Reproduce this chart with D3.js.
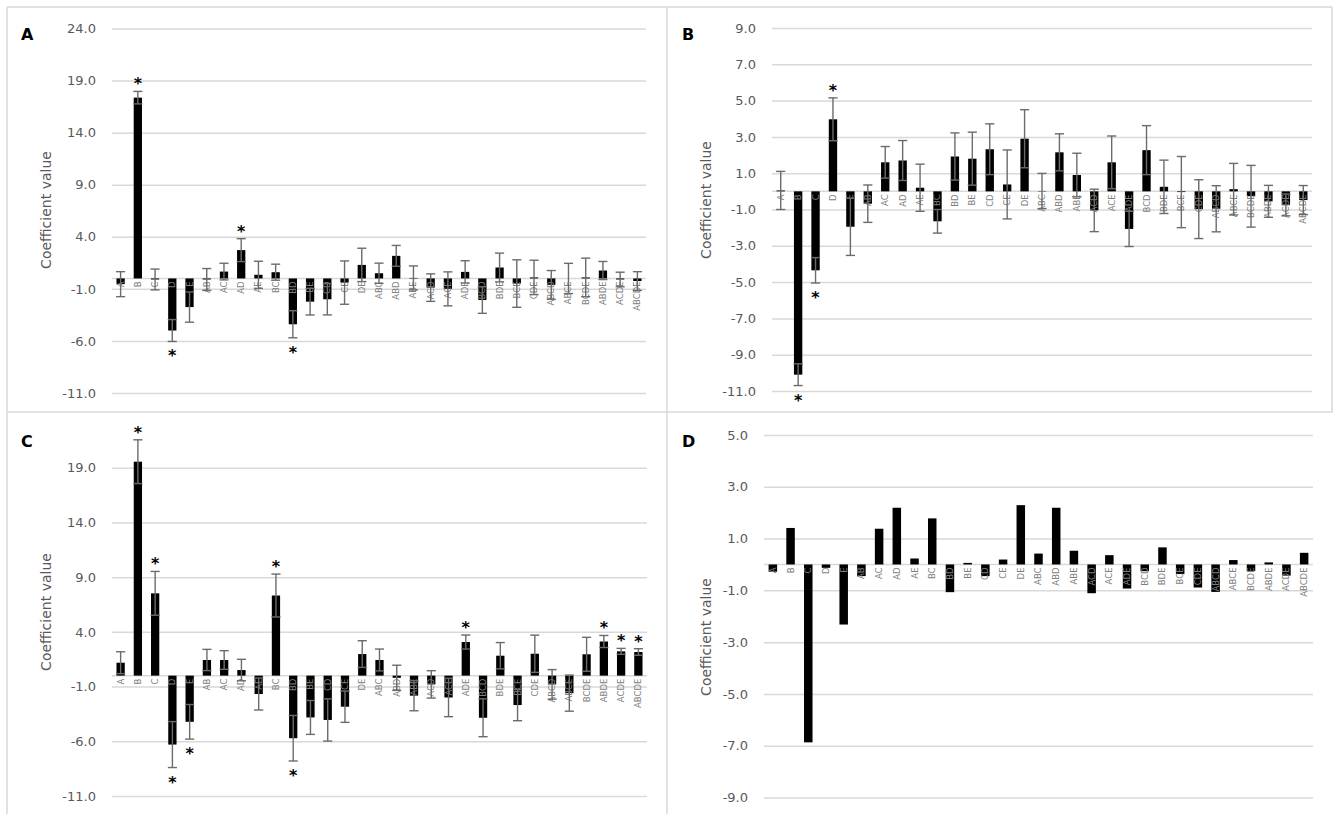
<!DOCTYPE html>
<html>
<head>
<meta charset="utf-8">
<script src="https://cdn.jsdelivr.net/npm/d3@7/dist/d3.min.js"></script>
<style>
  html, body { margin: 0; padding: 0; background: #ffffff; }
  svg { display: block; }
</style>
</head>
<body>
<svg id="chart" width="1333" height="814"></svg>
<script>
// Effect terms (main effects and interactions), shared by all four panels
const categories = ["A","B","C","D","E","AB","AC","AD","AE","BC","BD","BE","CD","CE","DE",
  "ABC","ABD","ABE","ACD","ACE","ADE","BCD","BDE","BCE","CDE",
  "ABCD","ABCE","BCDE","ABDE","ACDE","ABCDE"];

// Panel A
const valuesA = [-0.55, 17.36, -0.1, -5.0, -2.75, -0.1, 0.66, 2.72, 0.35, 0.6, -4.4, -2.23, -2.0, -0.4, 1.3,
  0.5, 2.17, 0.05, -0.88, -1.0, 0.63, -2.07, 1.05, -0.49, 0.1,
  -0.62, 0.0, 0.1, 0.76, -0.1, -0.25];
const errorsA = [1.2, 0.6, 1.0, 1.05, 1.45, 1.05, 0.8, 1.1, 1.3, 0.77, 1.3, 1.28, 1.5, 2.08, 1.6,
  0.97, 1.0, 1.15, 1.32, 1.63, 1.07, 1.28, 1.38, 2.28, 1.65,
  1.38, 1.45, 1.85, 0.87, 0.7, 0.9];
const significantA = ["B", "D", "AD", "BD"];
const ticksA = [24, 19, 14, 9, 4, -1, -6, -11];

// Panel B
const valuesB = [0.05, -10.1, -4.35, 3.97, -1.95, -0.68, 1.6, 1.7, 0.2, -1.65, 1.92, 1.8, 2.32, 0.38, 2.9,
  0.02, 2.15, 0.9, -1.05, 1.6, -2.07, 2.27, 0.25, -0.04, -0.98,
  -0.96, 0.12, -0.27, -0.55, -0.75, -0.48];
const errorsB = [1.05, 0.6, 0.7, 1.18, 1.58, 1.03, 0.87, 1.1, 1.3, 0.65, 1.3, 1.46, 1.4, 1.9, 1.6,
  0.97, 1.02, 1.2, 1.17, 1.45, 0.97, 1.35, 1.47, 1.96, 1.62,
  1.27, 1.42, 1.7, 0.88, 0.6, 0.8];
const significantB = ["B", "C", "D"];
const ticksB = [9, 7, 5, 3, 1, -1, -3, -5, -7, -9, -11];

// Panel C
const valuesC = [1.18, 19.55, 7.52, -6.3, -4.22, 1.43, 1.43, 0.51, -1.68, 7.32, -5.72, -3.82, -4.05, -2.84, 1.97,
  1.43, -0.2, -1.83, -0.8, -2.0, 3.07, -3.85, 1.82, -2.69, 2.0,
  -0.8, -1.6, 1.95, 3.12, 2.22, 2.16];
const errorsC = [1.0, 2.0, 2.0, 2.1, 1.58, 0.97, 0.85, 0.98, 1.46, 1.96, 2.08, 1.55, 1.93, 1.43, 1.22,
  1.0, 1.15, 1.38, 1.25, 1.75, 0.64, 1.73, 1.2, 1.43, 1.7,
  1.35, 1.65, 1.55, 0.55, 0.27, 0.3];
const significantC = ["B", "C", "D", "E", "BC", "BD", "ADE", "ABDE", "ACDE", "ABCDE"];
const ticksC = [19, 14, 9, 4, -1, -6, -11];

// Panel D (no error bars)
const valuesD = [-0.28, 1.41, -6.87, -0.13, -2.32, -0.45, 1.38, 2.19, 0.23, 1.78, -1.07, 0.06, -0.45, 0.19, 2.29,
  0.42, 2.19, 0.53, -1.11, 0.36, -0.93, -0.26, 0.66, -0.37, -0.89,
  -1.06, 0.17, -0.25, 0.08, -0.43, 0.45];
const ticksD = [5, 3, 1, -1, -3, -5, -7, -9];

const panelLetters = ["A", "B", "C", "D"];
const axisTitle = "Coefficient value";

const svg = d3.select("#chart");
const FONT = "'DejaVu Sans', sans-serif";
const GRID = "#d9d9d9";
const TEXT = "#595959";

// Frame lines separating the four panels
const frame = svg.append("g").attr("stroke", GRID).attr("stroke-width", 1.5).attr("fill", "none");
frame.append("line").attr("x1", 7).attr("y1", 7).attr("x2", 1332).attr("y2", 7);
frame.append("line").attr("x1", 7).attr("y1", 412).attr("x2", 1333).attr("y2", 412);
frame.append("line").attr("x1", 7).attr("y1", 7).attr("x2", 7).attr("y2", 814);
frame.append("line").attr("x1", 667).attr("y1", 7).attr("x2", 667).attr("y2", 814);
frame.append("line").attr("x1", 1332).attr("y1", 7).attr("x2", 1332).attr("y2", 412);

function drawPanel(cfg) {
  const g = svg.append("g");
  const x = d3.scaleBand().domain(categories).range(cfg.xRange).paddingInner(0.52).paddingOuter(0.26);
  const y = d3.scaleLinear().domain(cfg.yDomain).range(cfg.yRange);
  const rows = categories.map((c, i) => ({
    c, v: cfg.values[i], e: cfg.errors ? cfg.errors[i] : null,
    sig: cfg.significant ? cfg.significant.includes(c) : false
  }));

  // Gridlines and tick labels
  const yAxis = d3.axisLeft(y).tickValues(cfg.ticks)
    .tickSize(-(cfg.xRange[1] - cfg.xRange[0])).tickPadding(16)
    .tickFormat(d => d.toFixed(1));
  const ax = g.append("g").attr("transform", `translate(${cfg.xRange[0]},0)`).call(yAxis);
  ax.select(".domain").remove();
  ax.selectAll(".tick line").attr("stroke", GRID).attr("stroke-width", 1.5);
  ax.selectAll(".tick text").attr("fill", TEXT).attr("font-family", FONT).attr("font-size", 13);

  // Category axis crossing at zero
  g.append("line")
    .attr("x1", cfg.xRange[0]).attr("x2", cfg.xRange[1])
    .attr("y1", y(0)).attr("y2", y(0))
    .attr("stroke", GRID).attr("stroke-width", 1.5);

  // Bars
  g.append("g").selectAll("rect").data(rows).join("rect")
    .attr("x", d => x(d.c))
    .attr("width", x.bandwidth())
    .attr("y", d => y(Math.max(0, d.v)))
    .attr("height", d => Math.abs(y(d.v) - y(0)))
    .attr("fill", "#000000");

  // Category labels, rotated, just under the zero line
  g.append("g").selectAll("text").data(rows).join("text")
    .attr("transform", d => `translate(${x(d.c) + x.bandwidth() / 2},${y(0) + 3}) rotate(-90)`)
    .attr("text-anchor", "end")
    .attr("dy", "0.35em")
    .attr("fill", "#7f7f7f")
    .attr("font-family", FONT)
    .attr("font-size", 8.5)
    .text(d => d.c);

  // Error bars with caps
  if (cfg.errors) {
    const cap = x.bandwidth() * 0.55;
    const eb = g.append("g").attr("stroke", "#6b6b6b").attr("stroke-width", 1.4);
    rows.forEach(d => {
      const cx = x(d.c) + x.bandwidth() / 2;
      const top = y(d.v + d.e), bot = y(d.v - d.e);
      eb.append("line").attr("x1", cx).attr("x2", cx).attr("y1", top).attr("y2", bot);
      eb.append("line").attr("x1", cx - cap).attr("x2", cx + cap).attr("y1", top).attr("y2", top);
      eb.append("line").attr("x1", cx - cap).attr("x2", cx + cap).attr("y1", bot).attr("y2", bot);
    });
  }

  // Significance markers
  if (cfg.significant) {
    g.append("g").selectAll("text").data(rows.filter(d => d.sig)).join("text")
      .attr("x", d => x(d.c) + x.bandwidth() / 2)
      .attr("y", d => d.v >= 0 ? y(d.v + d.e) - 2 : y(d.v - d.e) + 20)
      .attr("text-anchor", "middle")
      .attr("font-family", FONT)
      .attr("font-weight", "bold")
      .attr("font-size", 16)
      .attr("fill", "#000000")
      .text("*");
  }

  // Axis title
  g.append("text")
    .attr("transform", `translate(${cfg.titleX},${cfg.titleY}) rotate(-90)`)
    .attr("text-anchor", "middle")
    .attr("dy", "0.35em")
    .attr("fill", TEXT)
    .attr("font-family", FONT)
    .attr("font-size", 14)
    .text(axisTitle);

  // Panel letter
  g.append("text")
    .attr("x", cfg.letterX).attr("y", cfg.letterY)
    .attr("font-family", FONT).attr("font-weight", "bold").attr("font-size", 16)
    .attr("fill", "#000000")
    .text(cfg.letter);
}

drawPanel({ letter: panelLetters[0], values: valuesA, errors: errorsA, significant: significantA, ticks: ticksA,
  xRange: [112, 646], yDomain: [-11, 24], yRange: [393, 28.5], titleX: 46, titleY: 210, letterX: 21, letterY: 40 });
drawPanel({ letter: panelLetters[1], values: valuesB, errors: errorsB, significant: significantB, ticks: ticksB,
  xRange: [772, 1312], yDomain: [-11, 9], yRange: [391, 28], titleX: 706, titleY: 200, letterX: 682, letterY: 40 });
drawPanel({ letter: panelLetters[2], values: valuesC, errors: errorsC, significant: significantC, ticks: ticksC,
  xRange: [112, 647], yDomain: [-11, 24], yRange: [796, 413], titleX: 46, titleY: 612, letterX: 21, letterY: 447 });
drawPanel({ letter: panelLetters[3], values: valuesD, errors: null, significant: null, ticks: ticksD,
  xRange: [764, 1313], yDomain: [-9, 5], yRange: [797.5, 435], titleX: 706, titleY: 637, letterX: 682, letterY: 447 });
</script>
</body>
</html>
